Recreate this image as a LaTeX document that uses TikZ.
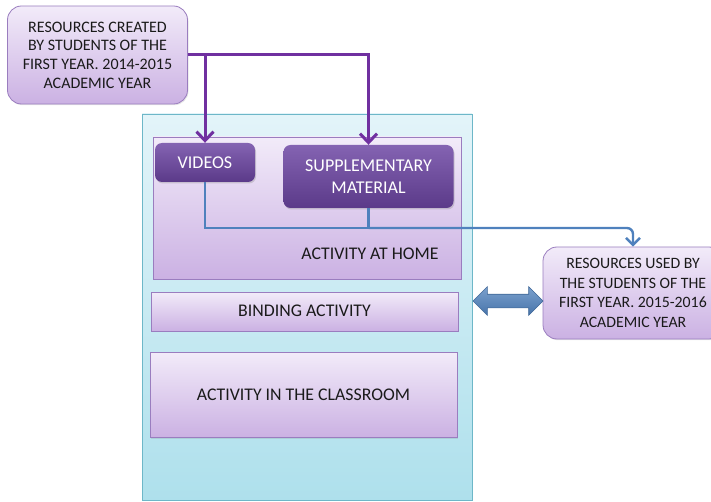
\documentclass[tikz,border=0pt]{standalone}
\usepackage{fontspec}
\setmainfont{Carlito}
\usetikzlibrary{arrows.meta,shapes.arrows,shadows}
\definecolor{lavtop}{HTML}{F2EBF9}
\definecolor{lavbot}{HTML}{CBB1E3}
\definecolor{lavbd}{HTML}{9A7DBF}
\definecolor{cytop}{HTML}{E3F4F9}
\definecolor{cybot}{HTML}{AEE0EC}
\definecolor{cybd}{HTML}{6DB7C8}
\definecolor{pptop}{HTML}{8463B2}
\definecolor{ppbot}{HTML}{5B3A89}
\definecolor{pline}{HTML}{7030A0}
\definecolor{bline}{HTML}{4F81BD}
\definecolor{txt}{HTML}{1A1A1A}
\tikzset{
  lav/.style={draw=lavbd, line width=0.8pt, top color=lavtop, bottom color=lavbot, inner sep=0pt,
    drop shadow={opacity=0.2, shadow xshift=1pt, shadow yshift=-1.2pt}},
  lavround/.style={lav, rounded corners=14pt, align=center, text=txt},
  dark/.style={draw=none, top color=pptop, bottom color=ppbot, rounded corners=7pt, inner sep=0pt,
    text=white, align=center, font=\fontsize{18}{22}\selectfont,
    drop shadow={opacity=0.3, shadow xshift=1pt, shadow yshift=-1.5pt}},
  outerbox/.style={draw=cybd, line width=0.8pt, top color=cytop, bottom color=cybot, inner sep=0pt},
  plink/.style={draw=pline, line width=3pt},
  blink/.style={draw=bline, line width=2.4pt},
  lbl/.style={text=txt, inner sep=0pt, font=\fontsize{17.8}{21}\selectfont},
}
\begin{document}
\begin{tikzpicture}[x=1pt,y=-1pt]
\useasboundingbox (0,0) rectangle (711,502);
% outer container
\node[outerbox, minimum width=330pt, minimum height=386pt] (outer) at (307,307) {};
% activity at home
\node[lav, minimum width=308pt, minimum height=142pt] (home) at (307,208) {};
\node[lbl] (hometxt) at (370,254) {ACTIVITY AT HOME};
% videos and supplementary
\node[dark, minimum width=100pt, minimum height=39pt] (videos) at (205,162.5) {VIDEOS};
\node[dark, minimum width=170pt, minimum height=63pt] (supp) at (368.5,176.5) {SUPPLEMENTARY\\MATERIAL};
% binding
\node[lav, minimum width=307pt, minimum height=39pt] (bind) at (304.5,311.5) {};
\node[lbl] (bindtxt) at (304.5,311) {BINDING ACTIVITY};
% classroom
\node[lav, minimum width=307pt, minimum height=85pt] (class) at (303.5,395) {};
\node[lbl] (classtxt) at (303.5,395) {ACTIVITY IN THE CLASSROOM};
% resources created
\node[lavround, minimum width=180pt, minimum height=98pt, font=\fontsize{16}{18.7}\selectfont] (res) at (97.5,55) {RESOURCES CREATED\\BY STUDENTS OF THE\\FIRST YEAR. 2014-2015\\ACADEMIC YEAR};
% resources used
\node[lavround, minimum width=180pt, minimum height=92pt, font=\fontsize{15.8}{19.5}\selectfont] (used) at (633,293) {RESOURCES USED BY\\THE STUDENTS OF THE\\FIRST YEAR. 2015-2016\\ACADEMIC YEAR};
% double arrow
\node[double arrow, draw=bline!80!black, line width=0.6pt, top color=bline!75!white, bottom color=bline!90!black,
  minimum height=70pt, inner sep=0pt, double arrow head extend=7.5pt,
  double arrow tip angle=90] (dbl) at (508,301) {\rule{0pt}{13pt}};
% purple connectors
\draw[plink, -{Straight Barb[length=9pt,width=17pt]}] (res.east) -| (supp.north);
\draw[plink, -{Straight Barb[length=9pt,width=17pt]}] (res.east -| videos.north) -- (videos.north);
% blue connectors
\coordinate (bj) at (368.5,228);
\draw[blink] (videos.south) |- (bj);
\draw[blink] (supp.south) -- (bj);
\draw[blink, rounded corners=6pt, -{Straight Barb[length=7pt,width=14pt]}] (bj) -| (used.north);
\end{tikzpicture}
\end{document}
